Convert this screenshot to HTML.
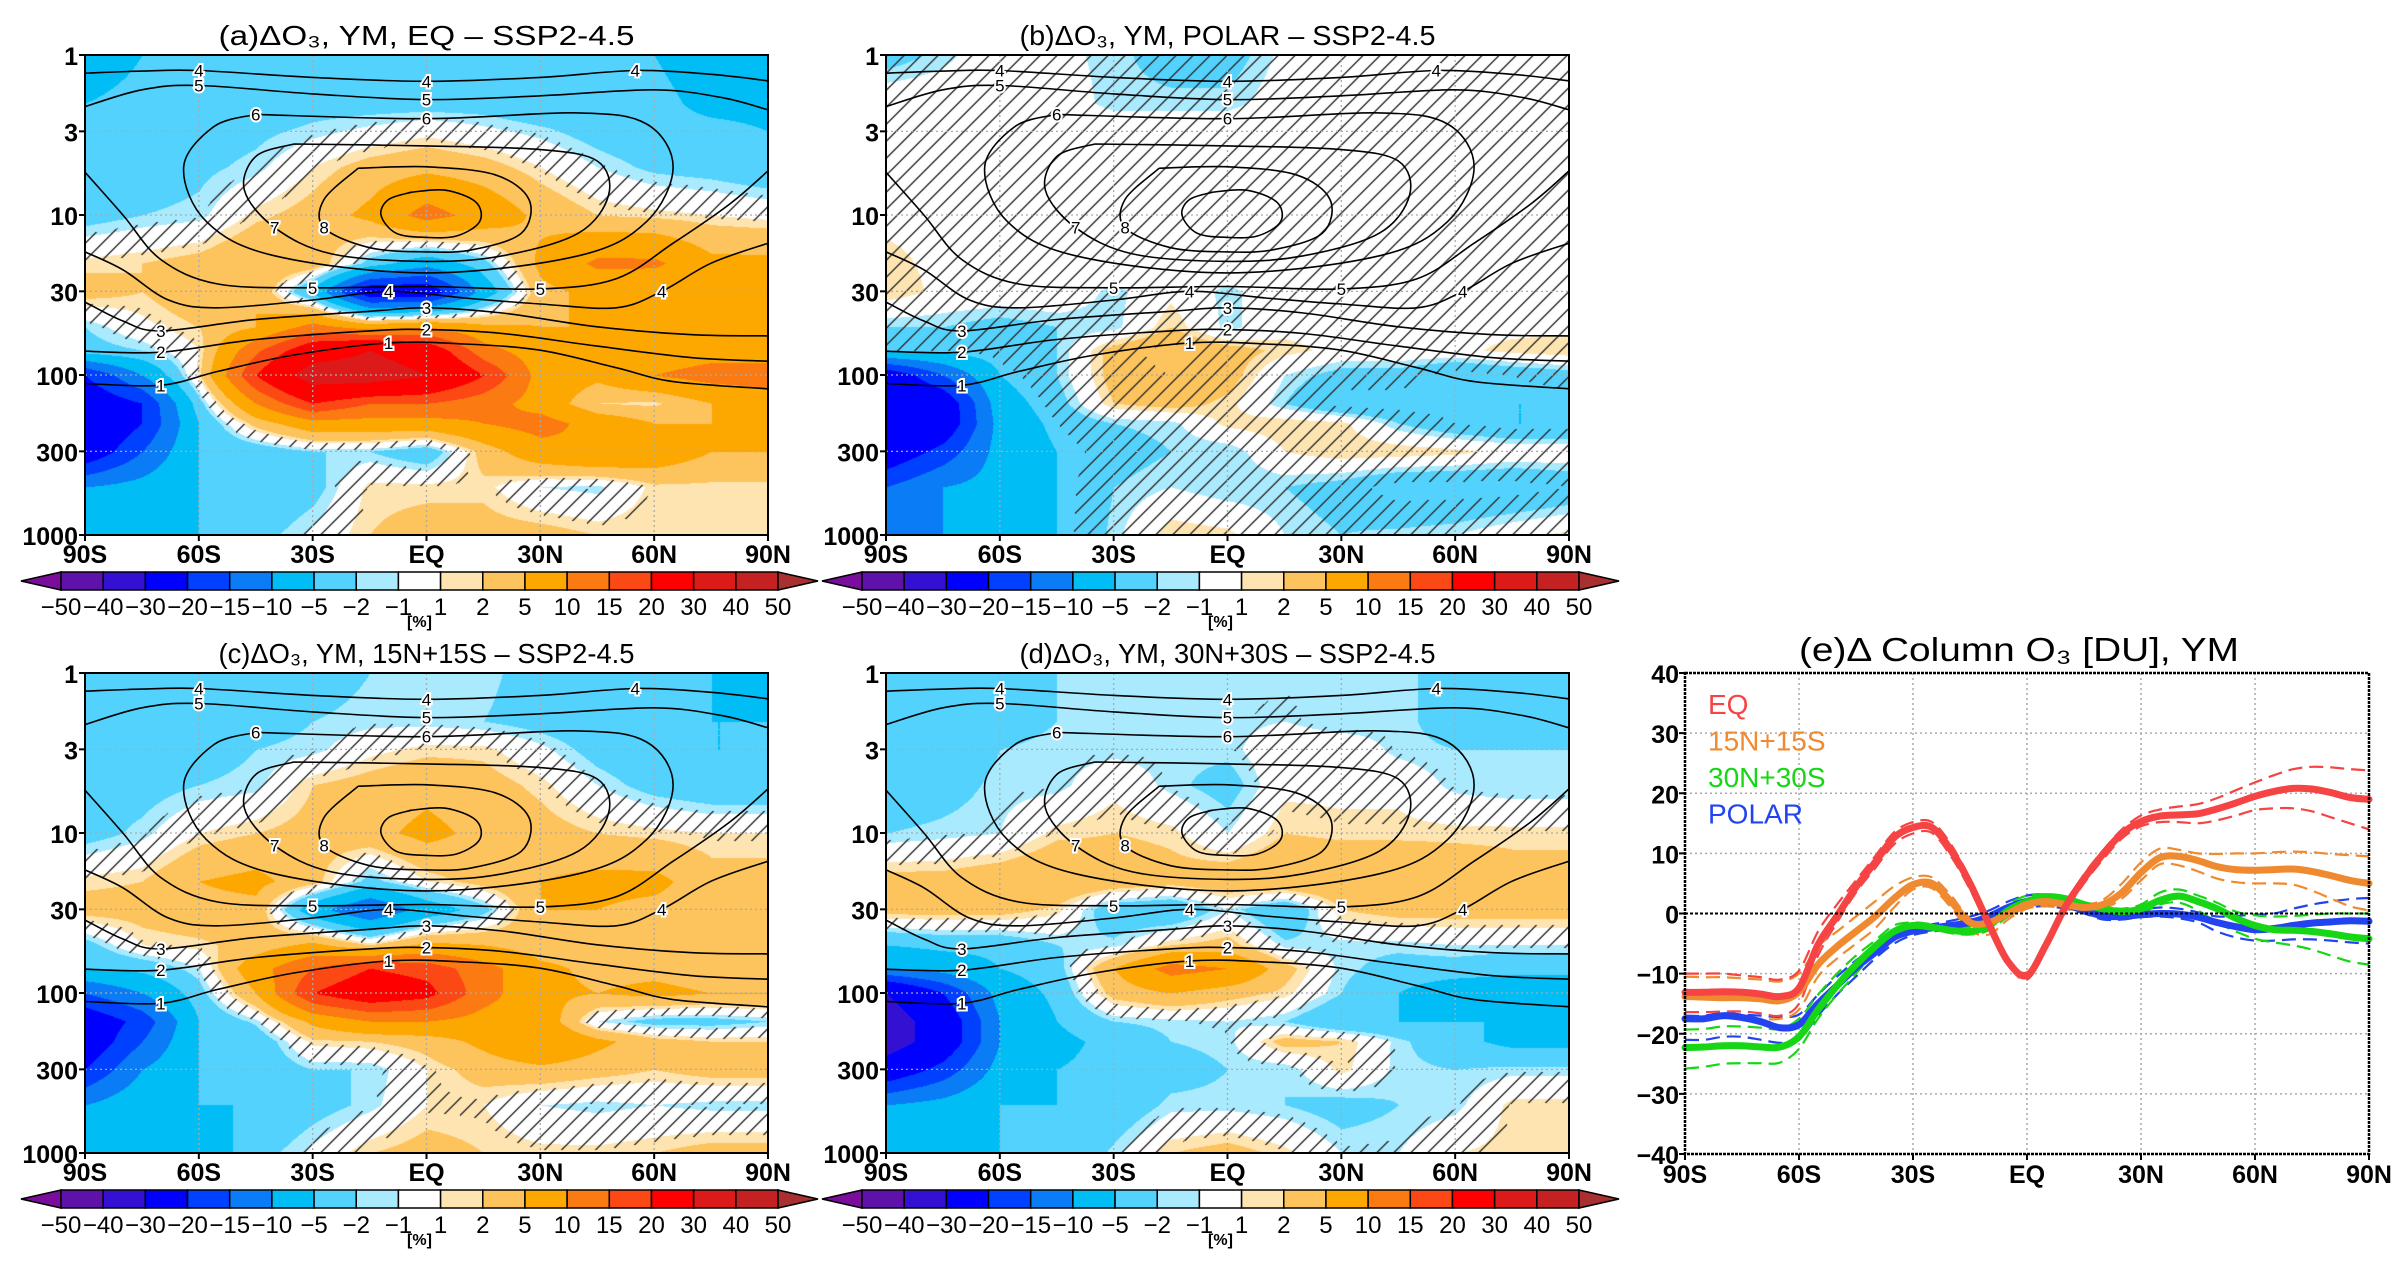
<!DOCTYPE html>
<html><head><meta charset="utf-8">
<style>
html,body{margin:0;padding:0;background:#fff;}
#wrap{position:relative;width:2408px;height:1264px;overflow:hidden;background:#fff;}
canvas{position:absolute;}
svg{position:absolute;left:0;top:0;}
text{font-family:"Liberation Sans Narrow","Liberation Sans",sans-serif;}
</style></head>
<body>
<div id="wrap">
<canvas id="ca" width="683" height="480" style="left:85px;top:55px"></canvas>
<canvas id="cb" width="683" height="480" style="left:886px;top:55px"></canvas>
<canvas id="cc" width="683" height="480" style="left:85px;top:673px"></canvas>
<canvas id="cd" width="683" height="480" style="left:886px;top:673px"></canvas>
<svg id="sv" width="2408" height="1264"></svg>
</div>
<script>
// ---------- data ----------
const lats = [-90,-75,-60,-45,-30,-15,0,15,30,45,60,75,90];
const plevs = [1,2,3,5,10,20,30,50,70,100,150,200,300,500,1000];
const fieldA = [
[-7,-5,-4,-4,-4,-3,-3,-3,-4,-4,-5,-7,-7],
[-5,-4,-4,-4,-3,-3,-3,-3,-4,-4,-4,-6,-6],
[-4,-4,-3,-2.5,-1.5,-0.5,0.5,-0.5,-1.5,-3,-4,-4,-5],
[-4,-3.5,-2.5,-1.5,1,3,4,3,1,-1,-2.5,-3,-4],
[-3,-2,-1.5,1.5,3,6,12,8,4,2,1.5,1,0.5],
[1.5,2,3,5,4,-3,-8,-3,6,11,11,6,6],
[3,2,4,5,-6,-25,-25,-8,4,6,5,5,5],
[-2,0.5,2,5,12,8,10,6,5,5,5,5,5],
[-3,-2,1,14,25,30,25,12,7,6,7,8,8],
[-20,-10,1.5,20,35,35,30,20,8,6,10,12,12],
[-25,-20,-3,10,20,15,15,12,8,2,1.5,5,8],
[-28,-20,-5,3,8,8,8,10,12,8,5,5,5],
[-25,-15,-5,-4,-2,-2,-4,3,8,10,8,5,5],
[-10,-8,-5,-5,-3,1.5,1.5,1.5,-1,-1.5,1.5,1.5,1.5],
[-10,-8,-5,-3,-0.5,2,3,3,3,2,2,2,2]];
const fieldB = [
[-3,-1.5,0.5,-0.5,-1.5,-3,-3,-0.5,0.5,0.5,0.5,0.5,0.5],
[0.5,0.5,0.5,0,-1.5,-1.5,-1.5,0,0.5,0.5,0.5,0.5,0.5],
[0.5,0.5,0.5,0.5,0.5,0.5,0.5,0.5,0.5,0.5,0.5,0.5,0.5],
[0.5,0.5,0.5,0.5,0.5,0.5,0.5,0.5,0.5,0.5,0.5,0.5,0.5],
[0.5,0.5,0.5,0.5,0.5,0.5,0.5,0.5,0.5,0.5,0.5,0.5,0.5],
[1.5,0.5,0.5,0.5,0.5,0.5,0.5,0.5,0.5,0.5,0.5,0.5,0.5],
[2,0.5,0.5,0.5,-1.5,0.5,-1.5,0.5,0.5,0.5,0.5,0.5,0.5],
[-2,-2,-3,-2,-1.5,2,-1.5,0.5,0.5,0.5,0.5,0.5,0.5],
[-4,-4,-3,-2,3,5,3,1.5,0.5,0.5,0.5,1.5,2],
[-25,-15,-5,-2,3,4,3,-1,-3,-3,-5,-4,-3],
[-30,-25,-7,-3,2,3,1.5,-2,-5,-5,-5,-5,-5],
[-30,-25,-8,-4,-2,-1.5,1.5,2,1.5,-2,-4,-5,-5],
[-25,-18,-8,-5,-3,-2,-2,1,2,2,1.5,0.5,0.5],
[-15,-10,-8,-5,-2,-1,-2,-2,-3,-5,-5,-5,-4],
[-15,-10,-8,-5,-1.5,2,1.5,-1,-2,-1.5,-1,0.5,1.5]];
const fieldC = [
[-5,-4,-4,-3,-3,-2,-2,-1.5,-3,-4,-4,-5,-7],
[-5,-4,-3,-3,-2,-1.5,-1.5,-2,-3,-4,-5,-5,-5],
[-4,-3,-3,-2,-1.5,0.5,1.5,1.5,-0.5,-3,-4,-5,-5],
[-3,-3,-2,-1.5,2,3,4,3,1.5,-1,-3,-4,-4],
[-3,-1.5,1,2,3,4,6,4,3,2,1.5,1,1],
[1.5,2,5,6,3,-3,1,3,5,6,6,3,3],
[3,3,4,4,-8,-15,-8,-3,5,5,4,3,3],
[-3,1,1.5,3,6,2,6,5,3,3,3,3,3],
[-5,-4,-1,8,15,20,18,12,6,4,4,3,3],
[-15,-10,-3,5,20,25,22,12,6,5,6,5,5],
[-25,-18,-5,-1.5,6,10,10,8,8,-1,-3,-3,-2],
[-25,-15,-5,-4,1.5,2,3,6,10,6,3,2,2],
[-20,-10,-5,-4,-2,-2,1,3,4,3,2,3,3],
[-10,-6,-5,-5,-3,-1.5,1,1,-1,-1.5,-1,-1.5,-1.5],
[-10,-8,-8,-3,-0.5,2,3,2,1.5,1.5,2,3,3]];
const fieldD = [
[-5,-5,-4,-2,-2,-1.5,-1.5,-1.5,-1.5,-1.5,-3,-5,-5],
[-5,-4,-3,-2,-1.5,-1.5,-1.5,-1,-2,-1.5,-3,-4,-4],
[-5,-4,-2,-1.5,-1.5,-1.5,-1.5,0.5,0.5,-1.5,-2,-2,-2],
[-4,-3,-1.5,-1.5,0.5,-1.5,-3,0.5,0.5,0.5,-1.5,-2,-2],
[-2,-1.5,-1,1.5,2,1.5,-1,2,1.5,1.5,1.5,1.5,1.5],
[3,3,4,5,4,3,4,5,5,5,4,3,3],
[3,3,3,1.5,-4,-5,-1,-5,2,3,3,3,3],
[-5,-4,-4,-2,-1.5,2,3,-1.5,-1.5,-1.5,-1,-1,-1],
[-10,-8,-5,-3,5,12,10,3,-1.5,-3,-3,-4,-4],
[-30,-20,-8,-4,3,5,3,1.5,-2,-5,-8,-8,-8],
[-35,-25,-10,-5,-2,-1.5,-1,-2,-5,-5,-5,-5,-5],
[-35,-25,-10,-6,-4,-2,-1.5,3,2,-1.5,-4,-6,-6],
[-25,-18,-8,-5,-4,-3,-2,-2,1.5,-1.5,-2,-1.5,-1.5],
[-10,-8,-5,-5,-4,-1.5,-1.5,-2,-3,-2,-1.5,1.5,1.5],
[-10,-8,-5,-5,-1.5,2,3,1.5,-1,-1,1,1.5,1.5]];
const cbLevels = [-50,-40,-30,-20,-15,-10,-5,-2,-1,1,2,5,10,15,20,30,40,50];
const cbColors = ["#7a0d9c","#5f12aa","#3410d2","#0000ff","#0040ff","#0a7cf5","#00bdf5","#52d2fc","#aaeafe","#ffffff","#fee4b0","#fdc35c","#fda800","#fb7a12","#fb4814","#ff0000","#dd1a1a","#c42222","#a83030"];
const hatchThresh = [1.3,4,1.3,1.3];
// contour polylines in (lat, hPa)
const contourValues = [4,5,6,7,8,9,5,4,3,2,1];
const contourLines = [
[[-90,1.3],[-75,1.26],[-60,1.25],[-30,1.38],[0,1.46],[30,1.38],[55,1.25],[75,1.32],[90,1.45]],
[[-90,2.1],[-75,1.65],[-60,1.55],[-30,1.75],[0,1.9],[30,1.8],[60,1.65],[78,1.85],[90,2.2]],
[[-45,2.35],[0,2.5],[40,2.3],[58,2.7],[65,5],[58,11],[40,18],[0,23],[-40,18],[-58,11],[-64,5],[-56,2.8],[-45,2.35]],
[[-35,3.6],[0,3.7],[30,3.9],[45,4.6],[48,7.5],[40,13],[20,18],[0,19.5],[-25,17.5],[-40,12],[-48,7],[-45,4.3],[-35,3.6]],
[[-18,5.1],[0,5],[18,5.6],[27,8],[25,13],[12,16.5],[0,17],[-15,16],[-27,12],[-27,8],[-18,5.1]],
[[-4,7.2],[5,7],[13,8.3],[14,11],[8,13.5],[0,13.8],[-8,13],[-12,10],[-10,8],[-4,7.2]],
[[-90,5.4],[-80,10],[-70,19],[-55,27],[-30,28.5],[0,28],[30,29],[50,25],[65,15],[80,8.5],[90,5.3]],
[[-90,17],[-80,22],[-68,34],[-55,38],[-30,34],[-10,30],[10,33],[30,36],[50,38],[62,30],[75,20],[90,15]],
[[-90,35],[-80,46],[-70,53],[-45,45],[-15,40],[0,38],[20,41],[45,50],[70,56],[90,57]],
[[-90,71],[-70,72],[-45,60],[-15,53],[0,52],[20,55],[45,66],[70,78],[90,82]],
[[-90,113],[-70,116],[-55,95],[-35,75],[-10,63],[10,64],[30,70],[50,90],[65,110],[90,122]]];
const contourLabelLat = [[-60,0,55],[-57,0],[-47,0],[-40],[-35],[],[-38,40],[-15,60],[-60,5],[-70,10],[-70,-5]];

// panel e
const eLats = [-90,-85,-80,-75,-70,-65,-60,-55,-50,-45,-40,-35,-30,-25,-20,-15,-10,-5,0,5,10,15,20,25,30,35,40,45,50,55,60,65,70,75,80,85,90];
const eqMean = [-13.1,-13.1,-13,-13.1,-13.4,-13.8,-12.4,-5.2,-0.4,4.4,8.5,12.6,14.3,14.3,10.5,5,-1.8,-8,-10.3,-5.2,1,5.8,9.9,13.3,15.3,16.2,16.4,16.6,17.4,18.4,19.5,20.3,20.8,20.7,20.1,19.3,19];
const eqUp = [-10,-10,-10,-10.3,-10.6,-11,-9.5,-3,1.5,5.5,9.5,13.5,15.2,15.2,11.5,5.8,-1,-7.5,-9.8,-4.5,1.5,6.5,10.5,14,16.3,17.3,17.8,18.2,19.2,20.5,21.8,23,24,24.4,24.3,24,23.8];
const eqLo = [-16.4,-16.4,-16.3,-16.3,-16.6,-17,-15,-7,-1.5,3.5,7.5,11.5,13.3,13.4,9.5,4,-2.5,-8.5,-11,-6,0.2,5,9,12.5,14.5,15.2,15.2,15,15.5,16.3,17.2,17.5,17.5,17,16,15,14];
const m15Mean = [-13.8,-13.9,-14,-14,-14.2,-14.5,-13,-8.5,-5.5,-3,-0.5,2.5,4.8,5,2,-1.5,-1.5,0,1.5,2,1.5,1,1.5,3.5,6.8,9.3,9.5,8.8,7.8,7.3,7.2,7.3,7.4,7,6.3,5.5,5];
const m15Up = [-10.5,-10.6,-10.6,-10.8,-11,-11.3,-10,-5.5,-3,-0.5,2,4.5,6,6,3,-0.8,-0.5,1,2.5,2.7,2,1.5,2.3,5,8.5,10.8,10.6,10,9.9,10,10,10.2,10.3,10.2,9.9,9.7,9.5];
const m15Lo = [-17.3,-17.3,-17.3,-17.4,-17.5,-17.5,-16,-10.5,-7.5,-5,-2.5,1,4,4.2,1,-2.8,-3.5,-1,0.8,1.2,0.8,0.5,0.8,2.5,5.5,8.2,8,7,5.8,5.2,5,5,4.8,3.8,2.5,1.2,0.5];
const m30Mean = [-22.3,-22.2,-22,-22,-22.2,-22.2,-20.5,-16,-12,-8.5,-5.5,-3,-2,-2.3,-2.8,-3,-2,0.5,2,2.8,2.5,1.5,0.8,0.3,0.8,2.2,2.9,2,0.8,-0.8,-2,-2.7,-2.8,-3,-3.4,-3.9,-4.2];
const m30Up = [-19.3,-19.2,-18.8,-18.8,-19,-19.2,-17.5,-13.5,-10,-7,-4.5,-2,-1.5,-1.8,-2.4,-2.2,-1,1.5,3,3.2,2.8,1.8,1.2,0.8,1.5,3.5,4,3,1.8,0.3,-0.3,-0.5,-0.4,-0.2,0,0,0];
const m30Lo = [-25.8,-25.5,-25,-24.9,-24.9,-24.8,-22.5,-17.5,-13.5,-10,-6.5,-4,-2.5,-2.6,-3.3,-3.5,-2.8,-0.5,1,1.8,1.5,0.8,0.2,-0.5,0,1.5,1.8,0.5,-1.5,-3,-4.2,-4.8,-5.3,-6,-7,-8,-8.5];
const polMean = [-17.5,-17.5,-17,-17.3,-18,-19,-18.5,-15,-12,-9,-6.5,-4,-2.9,-2.4,-2,-1.5,-0.5,1,2,2,1.5,0.5,-0.4,-0.5,-0.2,0,-0.1,-0.6,-1.5,-2.2,-2.7,-2.5,-2,-1.6,-1.4,-1.2,-1.3];
const polUp = [-17,-17,-16.5,-16.8,-17,-17.2,-16.8,-13.5,-10.5,-7.8,-5.5,-3.2,-2.2,-1.8,-1.2,-0.5,0.5,2,3,3.2,2.7,1.5,0.5,0.3,0.6,1,0.8,0.2,-0.5,-0.4,-0.2,0,0.8,1.5,2,2.4,2.6];
const polLo = [-21,-21,-20.5,-20.5,-21,-21.5,-21,-17,-13.5,-10.5,-7.5,-5,-3.6,-3,-2.7,-2.3,-1.5,0,1,1.2,0.8,0,-1,-1,-0.6,-0.5,-0.8,-1.5,-3,-4,-4.5,-4.5,-4.3,-4.3,-4.5,-4.8,-5];
const eSeriesNames = ["EQ","15N+15S","30N+30S","POLAR"];
const eYTicks = [-40,-30,-20,-10,0,10,20,30,40];
const latTickLabels = ["90S","60S","30S","EQ","30N","60N","90N"];
const pTicks = [1,3,10,30,100,300,1000];

// ---------- helpers ----------
const NS="http://www.w3.org/2000/svg";
const sv=document.getElementById('sv');
function mk(tag,attrs,parent){const e=document.createElementNS(NS,tag);for(const k in attrs)e.setAttribute(k,attrs[k]);(parent||sv).appendChild(e);return e;}
function hex(c){return [parseInt(c.substr(1,2),16),parseInt(c.substr(3,2),16),parseInt(c.substr(5,2),16)];}
const rgbCols=cbColors.map(hex);
const W=683,H=480;
function smoothPath(pts){let d="M"+pts[0][0].toFixed(1)+","+pts[0][1].toFixed(1);
 for(let i=0;i<pts.length-1;i++){const p0=pts[Math.max(0,i-1)],p1=pts[i],p2=pts[i+1],p3=pts[Math.min(pts.length-1,i+2)];
  const c1=[p1[0]+(p2[0]-p0[0])/6,p1[1]+(p2[1]-p0[1])/6],c2=[p2[0]-(p3[0]-p1[0])/6,p2[1]-(p3[1]-p1[1])/6];
  d+=" C"+c1[0].toFixed(1)+","+c1[1].toFixed(1)+" "+c2[0].toFixed(1)+","+c2[1].toFixed(1)+" "+p2[0].toFixed(1)+","+p2[1].toFixed(1);}
 return d;}

const panels=[
 {id:'ca',f:fieldA,x0:85,y0:55,title:"(a)ΔO₃, YM, EQ – SSP2-4.5",name:'a'},
 {id:'cb',f:fieldB,x0:886,y0:55,title:"(b)ΔO₃, YM, POLAR – SSP2-4.5",name:'b'},
 {id:'cc',f:fieldC,x0:85,y0:673,title:"(c)ΔO₃, YM, 15N+15S – SSP2-4.5",name:'c'},
 {id:'cd',f:fieldD,x0:886,y0:673,title:"(d)ΔO₃, YM, 30N+30S – SSP2-4.5",name:'d'}];
const logLevs=plevs.map(p=>Math.log10(p));

panels.forEach((P,pi)=>{
 const cv=document.getElementById(P.id),ctx=cv.getContext('2d');
 const img=ctx.createImageData(W,H),d=img.data;
 for(let y=0;y<H;y++){
  const lp=y/H*3;let r=0;while(r<logLevs.length-2&&lp>logLevs[r+1])r++;
  const ty=Math.min(1,Math.max(0,(lp-logLevs[r])/(logLevs[r+1]-logLevs[r])));
  for(let x=0;x<W;x++){
   const lat=x/W*180-90;let c=Math.min(11,Math.floor((lat+90)/15));const tx=(lat-lats[c])/15;
   const f=P.f;
   const v=(f[r][c]*(1-tx)+f[r][c+1]*tx)*(1-ty)+(f[r+1][c]*(1-tx)+f[r+1][c+1]*tx)*ty;
   let i=0;while(i<cbLevels.length&&v>=cbLevels[i])i++;
   let col=rgbCols[i];const k=(y*W+x)*4;
   if(Math.abs(v)<hatchThresh[pi]&&((x+y)%17)<1.3){col=[50,50,50];}
   d[k]=col[0];d[k+1]=col[1];d[k+2]=col[2];d[k+3]=255;}}
 ctx.putImageData(img,0,0);

 const g=mk('g',{});
 
 
 const px=lat=>P.x0+(lat+90)/180*W, py=p=>P.y0+Math.log10(p)/3*H;
 for(let i=1;i<6;i++){const gx=px(-90+30*i);const l=mk('line',{x1:gx,y1:P.y0,x2:gx,y2:P.y0+H,stroke:'#aaa','stroke-width':1.3,'stroke-dasharray':'2,3'},g);
  }
 pTicks.slice(1,-1).forEach(p=>{const l=mk('line',{x1:P.x0,y1:py(p),x2:P.x0+W,y2:py(p),stroke:'#aaa','stroke-width':1.3,'stroke-dasharray':'2,3'},g);
  });
 const cg=mk('g',{},g);
 contourLines.forEach((line,ci)=>{
  const pts=line.map(q=>[px(q[0]),py(q[1])]);
  const pa=mk('path',{d:smoothPath(pts),fill:'none',stroke:'#000','stroke-width':1.6},cg);
  
  contourLabelLat[ci].forEach(lt=>{
   let best=line[0],bd=1e9;line.forEach(q=>{const dd=Math.abs(q[0]-lt);if(dd<bd){bd=dd;best=q;}});
   const tx=mk('text',{x:px(best[0]),y:py(best[1])+6,'font-size':17,'text-anchor':'middle',fill:'#000',stroke:'#fff','stroke-width':4,'paint-order':'stroke'},cg);
   tx.textContent=contourValues[ci];});
 });
 const fr=mk('rect',{x:P.x0,y:P.y0,width:W,height:H,fill:'none',stroke:'#000','stroke-width':2},g);
 
 latTickLabels.forEach((s,i)=>{const x=px(-90+30*i);
  mk('line',{x1:x,y1:P.y0+H,x2:x,y2:P.y0+H+6,stroke:'#000','stroke-width':2},g);
  const t=mk('text',{x:x,y:P.y0+H+28,'font-size':25,'text-anchor':'middle','font-weight':'bold'},g);t.textContent=s;
  });
 pTicks.forEach(p=>{const y=py(p);
  mk('line',{x1:P.x0-6,y1:y,x2:P.x0,y2:y,stroke:'#000','stroke-width':2},g);
  const t=mk('text',{x:P.x0-7,y:y+10,'font-size':25,'text-anchor':'end','font-weight':'bold'},g);t.textContent=p;
  });
 const tt=mk('text',{x:P.x0+W/2,y:P.y0-10,'font-size':28,'text-anchor':'middle',textLength:416,lengthAdjust:'spacingAndGlyphs'},g);
 tt.textContent=P.title;
 const cb=mk('g',{},g);
 const bx0=P.x0-24,bw=(P.x0+693-bx0)/17,by=P.y0+517,bh=18;
 mk('polygon',{points:`${bx0},${by} ${bx0-40},${by+bh/2} ${bx0},${by+bh}`,fill:cbColors[0],stroke:'#000','stroke-width':1.5},cb);
 for(let i=0;i<17;i++){const r=mk('rect',{x:bx0+i*bw,y:by,width:bw,height:bh,fill:cbColors[i+1],stroke:'#000','stroke-width':1.5},cb);
  }
 const ex=bx0+17*bw;
 mk('polygon',{points:`${ex},${by} ${ex+40},${by+bh/2} ${ex},${by+bh}`,fill:cbColors[18],stroke:'#000','stroke-width':1.5},cb);
 cbLevels.forEach((v,i)=>{const t=mk('text',{x:bx0+i*bw,y:by+43,'font-size':24,'text-anchor':'middle'},cb);
  t.textContent=(v<0?'−':'')+Math.abs(v);});
 const u=mk('text',{x:bx0+8.5*bw,y:by+55,'font-size':16,'text-anchor':'middle','font-weight':'bold'},cb);u.textContent='[%]';
 
});

// ---------- panel e ----------
const E={x0:1685,y0:673,w:684,h:481};
const ex=lat=>E.x0+(lat+90)/180*E.w, ey=v=>E.y0+(40-v)/80*E.h;
const ge=mk('g',{});
const et=mk('text',{x:E.x0+E.w/2-8,y:E.y0-12,'font-size':33,'text-anchor':'middle',textLength:440,lengthAdjust:'spacingAndGlyphs',style:'font-family:"Liberation Sans",sans-serif'},ge);
et.textContent='(e)Δ Column O₃ [DU], YM';
for(let i=1;i<6;i++){const l=mk('line',{x1:ex(-90+30*i),y1:E.y0,x2:ex(-90+30*i),y2:E.y0+E.h,stroke:'#aaa','stroke-width':1.5,'stroke-dasharray':'2,3'},ge);
 }
eYTicks.forEach(v=>{const y=ey(v);
 if(v>-40&&v<40&&v!==0){const l=mk('line',{x1:E.x0,y1:y,x2:E.x0+E.w,y2:y,stroke:'#aaa','stroke-width':1.5,'stroke-dasharray':'2,3'},ge);
  }
 mk('line',{x1:E.x0-6,y1:y,x2:E.x0,y2:y,stroke:'#000','stroke-width':2},ge);
 const t=mk('text',{x:E.x0-6,y:y+10,'font-size':25,'text-anchor':'end','font-weight':'bold'},ge);t.textContent=(v<0?'−':'')+Math.abs(v);
 });
latTickLabels.forEach((s,i)=>{const x=ex(-90+30*i);
 mk('line',{x1:x,y1:E.y0+E.h,x2:x,y2:E.y0+E.h+6,stroke:'#000','stroke-width':2},ge);
 const t=mk('text',{x:x,y:E.y0+E.h+29,'font-size':25,'text-anchor':'middle','font-weight':'bold'},ge);t.textContent=s;
 });
const series=[
 {n:'eq',c:'#f64444',m:eqMean,u:eqUp,l:eqLo},
 {n:'15n15s',c:'#f08a30',m:m15Mean,u:m15Up,l:m15Lo},
 {n:'30n30s',c:'#16d616',m:m30Mean,u:m30Up,l:m30Lo},
 {n:'polar',c:'#2244f0',m:polMean,u:polUp,l:polLo}];
const order=[3,2,1,0];
order.forEach(si=>{const s=series[si];
 [s.u,s.l].forEach((arr,j)=>{const p=mk('path',{d:smoothPath(arr.map((v,i)=>[ex(eLats[i]),ey(v)])),fill:'none',stroke:s.c,'stroke-width':2.2,'stroke-dasharray':'14,7'},ge);
  });});
order.forEach(si=>{const s=series[si];
 const p=mk('path',{d:smoothPath(s.m.map((v,i)=>[ex(eLats[i]),ey(v)])),fill:'none',stroke:s.c,'stroke-width':7,'stroke-linecap':'round'},ge);
 });
const zl=mk('line',{x1:E.x0,y1:ey(0),x2:E.x0+E.w,y2:ey(0),stroke:'#000','stroke-width':2,'stroke-dasharray':'3,2'},ge);

const efr=mk('rect',{x:E.x0,y:E.y0,width:E.w,height:E.h,fill:'none',stroke:'#000','stroke-width':2.5,'stroke-dasharray':'3,1'},ge);

eSeriesNames.forEach((nm,i)=>{const t=mk('text',{x:1708,y:714+i*36.5,'font-size':28,fill:series[i].c},ge);t.textContent=nm;
 });
</script>
</body></html>
